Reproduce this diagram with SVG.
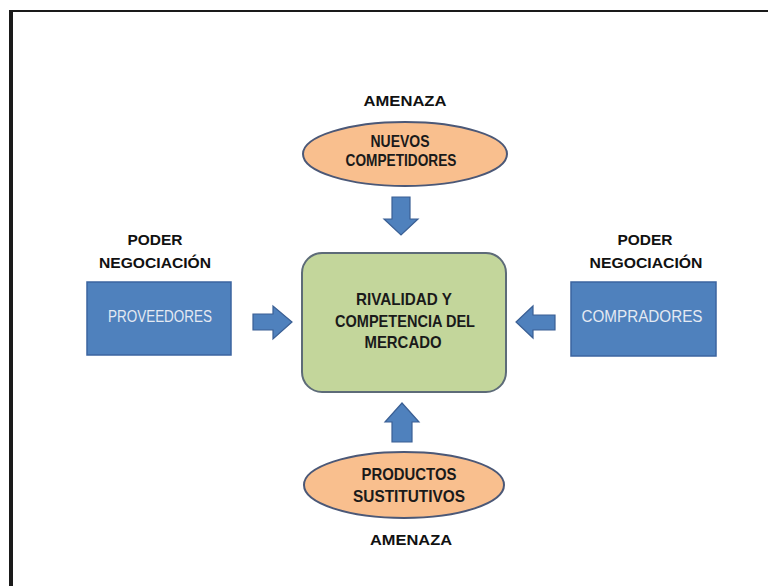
<svg xmlns="http://www.w3.org/2000/svg" width="768" height="586" viewBox="0 0 768 586">
<style>
.lbl{font-family:"Liberation Sans",Arial,sans-serif;font-weight:bold;font-size:15px;fill:#111111;text-anchor:middle}
.in{font-family:"Liberation Sans",Arial,sans-serif;font-weight:bold;font-size:16.5px;fill:#1a1a1a;text-anchor:middle}
.box{font-family:"Liberation Sans",Arial,sans-serif;font-size:16px;fill:#e4eaf3;text-anchor:middle}
.ell{fill:#F9BF8E;stroke:#4b5877;stroke-width:2}
.blue{fill:#4F81BD;stroke:#3B64A0;stroke-width:1.5}
.arr{fill:#4F81BD;stroke:#3A5F94;stroke-width:1.2}
</style>
<rect x="0" y="0" width="768" height="586" fill="#ffffff"/>
<g id="frame">
<line x1="9" y1="11" x2="768" y2="11" stroke="#1a1a1a" stroke-width="2"/>
<line x1="11" y1="10" x2="11" y2="586" stroke="#1a1a1a" stroke-width="4"/>
</g>
<g id="center">
<rect x="302" y="253" width="204" height="139" rx="20" ry="20" fill="#C3D69B" stroke="#5d6b78" stroke-width="2"/>
<text class="in" x="404" y="305" textLength="96" lengthAdjust="spacingAndGlyphs">RIVALIDAD Y</text>
<text class="in" x="405" y="327" textLength="140" lengthAdjust="spacingAndGlyphs">COMPETENCIA DEL</text>
<text class="in" x="403" y="348" textLength="77" lengthAdjust="spacingAndGlyphs">MERCADO</text>
</g>
<g id="nuevos">
<text class="lbl" x="405" y="106" textLength="83" lengthAdjust="spacingAndGlyphs">AMENAZA</text>
<ellipse class="ell" cx="405" cy="154" rx="102" ry="32"/>
<text class="in" x="400" y="147" textLength="59" lengthAdjust="spacingAndGlyphs">NUEVOS</text>
<text class="in" x="401" y="166" textLength="111" lengthAdjust="spacingAndGlyphs">COMPETIDORES</text>
</g>
<g id="sustitutivos">
<ellipse class="ell" cx="404" cy="485" rx="100" ry="33"/>
<text class="in" x="409" y="480" textLength="95" lengthAdjust="spacingAndGlyphs">PRODUCTOS</text>
<text class="in" x="409" y="502" textLength="112" lengthAdjust="spacingAndGlyphs">SUSTITUTIVOS</text>
<text class="lbl" x="411" y="545" textLength="82" lengthAdjust="spacingAndGlyphs">AMENAZA</text>
</g>
<g id="proveedores">
<text class="lbl" x="155" y="245" textLength="55" lengthAdjust="spacingAndGlyphs">PODER</text>
<text class="lbl" x="155" y="268" textLength="112" lengthAdjust="spacingAndGlyphs">NEGOCIACIÓN</text>
<rect class="blue" x="87" y="282" width="144" height="73"/>
<text class="box" x="160" y="322" textLength="104" lengthAdjust="spacingAndGlyphs">PROVEEDORES</text>
</g>
<g id="compradores">
<text class="lbl" x="645" y="245" textLength="55" lengthAdjust="spacingAndGlyphs">PODER</text>
<text class="lbl" x="646" y="268" textLength="113" lengthAdjust="spacingAndGlyphs">NEGOCIACIÓN</text>
<rect class="blue" x="571" y="282" width="145" height="74"/>
<text class="box" x="642" y="322" textLength="121" lengthAdjust="spacingAndGlyphs">COMPRADORES</text>
</g>
<g id="connectors">
<polygon class="arr" points="392,197 410,197 410,219 418,219 401,235 384,219 392,219"/>
<polygon class="arr" points="392,442 412,442 412,422 419,422 402,403 385,422 392,422"/>
<polygon class="arr" points="253,314 273,314 273,306 292,322 273,339 273,330 253,330"/>
<polygon class="arr" points="555,315 533,315 533,306 516,322 533,338 533,330 555,330"/>
</g>
</svg>
